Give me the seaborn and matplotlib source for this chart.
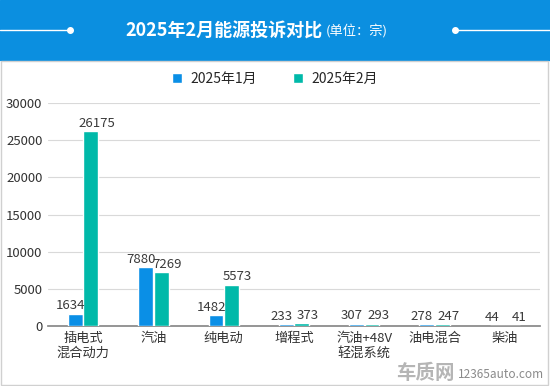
import pandas as pd
import seaborn as sns
import matplotlib.pyplot as plt
from matplotlib.patches import Rectangle
from matplotlib.lines import Line2D

categories = ['插电式\n混合动力', '汽油', '纯电动', '增程式', '汽油+48V\n轻混系统', '油电混合', '柴油']
jan = [1634, 7880, 1482, 233, 307, 278, 44]
feb = [26175, 7269, 5573, 373, 293, 247, 41]
series = ['2025年1月', '2025年2月']
yticks = [0, 5000, 10000, 15000, 20000, 25000, 30000]

df = pd.DataFrame({
    'cat': categories * 2,
    'month': [series[0]] * len(jan) + [series[1]] * len(feb),
    'val': jan + feb,
})

sns.set_theme(style='white')
plt.rcParams['font.family'] = ['Noto Sans CJK SC', 'DejaVu Sans']

fig = plt.figure(figsize=(5.5, 3.86), dpi=100)

# header band
fig.patches.append(Rectangle((0, 1 - 60 / 386), 1, 60 / 386, transform=fig.transFigure,
                             color='#0b8fe0', zorder=0))
# frame around the chart body
fig.patches.append(Rectangle((1 / 550, 1 / 386), 547 / 550, 1 - 62 / 386, transform=fig.transFigure,
                             fill=False, edgecolor='#d0d0d0', lw=1, zorder=0))
for xs, dot in [((0, 70 / 550), 70 / 550), ((455 / 550, 1), 455 / 550)]:
    y = 1 - 30 / 386
    fig.lines.append(Line2D(xs, [y, y], transform=fig.transFigure, color='white', lw=1))
    fig.lines.append(Line2D([dot], [y], transform=fig.transFigure, color='white',
                            marker='o', markersize=4))
fig.text(323 / 550, 1 - 31 / 386, '2025年2月能源投诉对比', color='white', fontsize=13,
         fontweight='bold', ha='right', va='center')
fig.text(326 / 550, 1 - 31 / 386, '(单位：宗)', color='white', fontsize=9.5,
         ha='left', va='center')

ax = fig.add_axes([48 / 550, 1 - 326 / 386, 492 / 550, 223 / 386])
sns.barplot(data=df, x='cat', y='val', hue='month', palette=['#0a8fe6', '#00b9a9'],
            saturation=1, width=0.44, gap=0.04, ax=ax, zorder=3)
ax.set_ylim(0, 30000)
ax.set_yticks(yticks)
ax.set_xlim(-0.5, len(categories) - 0.5)
ax.grid(axis='y', color='#d9d9d9', lw=0.8, zorder=0)
ax.set_xlabel('')
ax.set_ylabel('')
for s in ['top', 'right', 'left']:
    ax.spines[s].set_visible(False)
ax.spines['bottom'].set_color('#888888')
ax.tick_params(axis='both', labelsize=9.5, colors='#333333', length=0, pad=4)
ax.tick_params(axis='x', pad=4)

# value labels, nudged apart a little like the original
for c, dx in zip(ax.containers, [-3.5, 4.5]):
    for t in ax.bar_label(c, fontsize=9.5, color='#3a3a3a', padding=1):
        t.xyann = (dx, 1)

ax.legend(loc='center', bbox_to_anchor=(275 / 550, 1 - 79 / 386),
          bbox_transform=fig.transFigure, ncol=2, frameon=False,
          fontsize=10, handlelength=0.75, handleheight=0.75, columnspacing=2.6,
          handletextpad=0.6)

fig.text(455 / 550, 1 - 373 / 386, '车质网', color='#b5b5b5', fontsize=14,
         fontweight='bold', style='italic', ha='right', va='center')
fig.text(458 / 550, 1 - 374 / 386, '12365auto.com', color='#8a8a8a', fontsize=8.5,
         ha='left', va='center')

fig.savefig('out.png', dpi=100)
